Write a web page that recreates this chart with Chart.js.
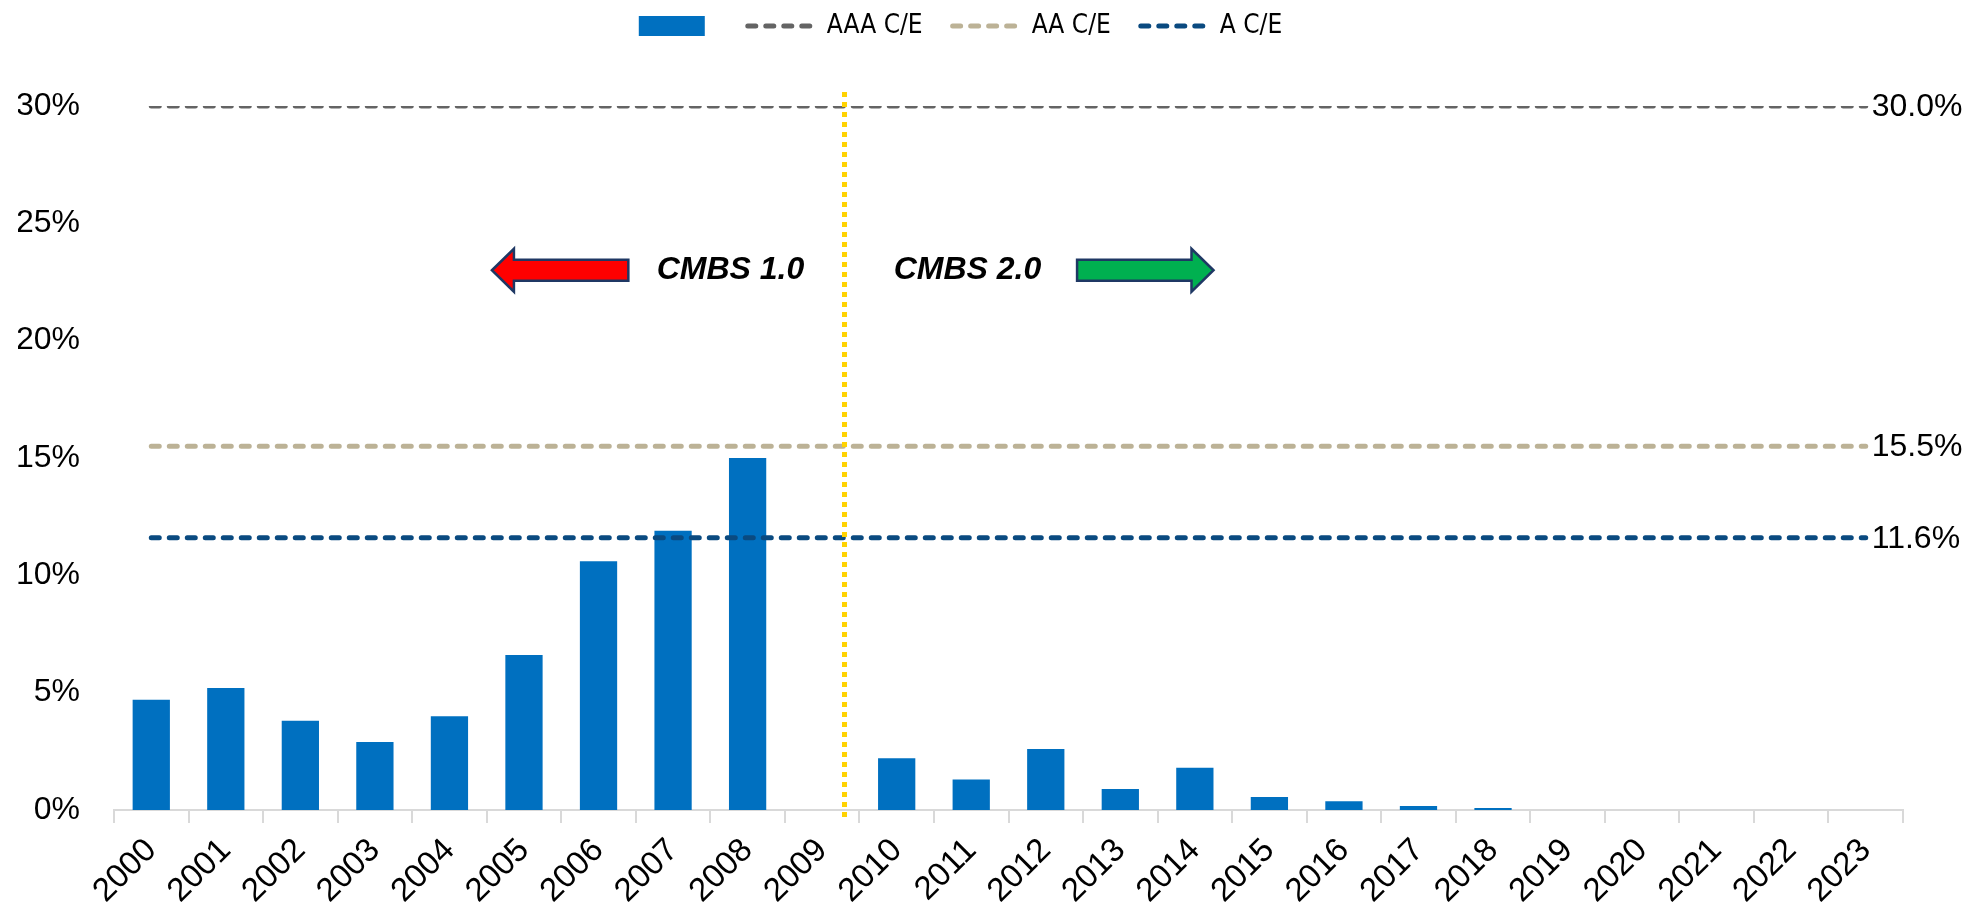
<!DOCTYPE html>
<html>
<head>
  <meta charset="UTF-8">
  <title>CMBS Credit Enhancement</title>
  <script src="https://cdn.jsdelivr.net/npm/chart.js"></script>
  <style>
    html, body {
      margin: 0;
      padding: 0;
      background: #fff;
    }
    #wrap {
      width: 1982px;
      height: 912px;
    }
  </style>
</head>
<body>
  <div id="wrap"><canvas id="ceChart"></canvas></div>

  <script>
    // vintage years
    const years = ['2000', '2001', '2002', '2003', '2004', '2005', '2006', '2007', '2008', '2009',
                   '2010', '2011', '2012', '2013', '2014', '2015', '2016', '2017', '2018', '2019',
                   '2020', '2021', '2022', '2023'];

    // bar series (%)
    const barValues = [4.7, 5.2, 3.8, 2.9, 4.0, 6.6, 10.6, 11.9, 15.0, 0,
                       2.2, 1.3, 2.6, 0.9, 1.8, 0.55, 0.37, 0.17, 0.08, 0,
                       0, 0, 0, 0];

    // credit enhancement levels (%)
    const aaaCE = [30, 30, 30, 30, 30, 30, 30, 30, 30, 30, 30, 30,
                   30, 30, 30, 30, 30, 30, 30, 30, 30, 30, 30, 30];
    const aaCE = [15.5, 15.5, 15.5, 15.5, 15.5, 15.5, 15.5, 15.5, 15.5, 15.5, 15.5, 15.5,
                  15.5, 15.5, 15.5, 15.5, 15.5, 15.5, 15.5, 15.5, 15.5, 15.5, 15.5, 15.5];
    const aCE = [11.6, 11.6, 11.6, 11.6, 11.6, 11.6, 11.6, 11.6, 11.6, 11.6, 11.6, 11.6,
                 11.6, 11.6, 11.6, 11.6, 11.6, 11.6, 11.6, 11.6, 11.6, 11.6, 11.6, 11.6];

    const yTicks = [0, 5, 10, 15, 20, 25, 30];

    const sans = '"Liberation Sans", Arial, sans-serif';

    // value labels at the end of the dashed lines
    const endLabels = {
      id: 'endLabels',
      afterDatasetsDraw(chart) {
        const ctx = chart.ctx;
        ctx.save();
        ctx.font = '32px ' + sans;
        ctx.fillStyle = '#000';
        ctx.textAlign = 'left';
        ctx.textBaseline = 'middle';
        chart.data.datasets.forEach((ds, i) => {
          if (ds.type !== 'line') return;
          const pts = chart.getDatasetMeta(i).data;
          const last = pts[pts.length - 1];
          ctx.fillText(ds.data[ds.data.length - 1].toFixed(1) + '%', last.x + 6, last.y + 1);
        });
        ctx.restore();
      }
    };

    function arrow(ctx, tipX, tailX, cy, fill) {
      const dir = tipX < tailX ? 1 : -1;
      const head = 22, hh = 21.5, sh = 10.5;
      ctx.beginPath();
      ctx.moveTo(tipX, cy);
      ctx.lineTo(tipX + dir * head, cy - hh);
      ctx.lineTo(tipX + dir * head, cy - sh);
      ctx.lineTo(tailX, cy - sh);
      ctx.lineTo(tailX, cy + sh);
      ctx.lineTo(tipX + dir * head, cy + sh);
      ctx.lineTo(tipX + dir * head, cy + hh);
      ctx.closePath();
      ctx.fillStyle = fill;
      ctx.fill();
      ctx.lineWidth = 2.5;
      ctx.strokeStyle = '#1F3864';
      ctx.stroke();
    }

    // CMBS 1.0 / 2.0 divider and arrows
    const eraMarks = {
      id: 'eraMarks',
      afterDatasetsDraw(chart) {
        const ctx = chart.ctx;
        const x = chart.scales.x, y = chart.scales.y;
        const area = chart.chartArea;
        ctx.save();

        // dotted divider
        const dx = x.getPixelForValue(9.3);
        ctx.beginPath();
        ctx.setLineDash([5, 5]);
        ctx.lineWidth = 5;
        ctx.strokeStyle = '#FFD200';
        ctx.moveTo(dx, y.getPixelForValue(30.6));
        ctx.lineTo(dx, area.bottom + 8);
        ctx.stroke();
        ctx.setLineDash([]);

        const cy = y.getPixelForValue(23);
        arrow(ctx, x.getPixelForValue(4.57), x.getPixelForValue(6.40), cy, '#FF0000');
        arrow(ctx, x.getPixelForValue(14.25), x.getPixelForValue(12.42), cy, '#00B050');

        ctx.font = 'italic bold 32px ' + sans;
        ctx.fillStyle = '#000';
        ctx.textAlign = 'center';
        ctx.textBaseline = 'middle';
        ctx.fillText('CMBS 1.0', x.getPixelForValue(7.77), cy);
        ctx.fillText('CMBS 2.0', x.getPixelForValue(10.95), cy);
        ctx.restore();
      }
    };

    const lineStyle = {
      type: 'line',
      borderWidth: 5,
      borderDash: [8, 10],
      borderCapStyle: 'round',
      pointRadius: 0,
      fill: false,
      order: 0
    };

    new Chart(document.getElementById('ceChart'), {
      type: 'bar',
      data: {
        labels: years,
        datasets: [
          {
            label: '',
            data: barValues,
            backgroundColor: '#0070C0',
            borderWidth: 0,
            categoryPercentage: 1,
            barPercentage: 0.5,
            order: 1
          },
          { ...lineStyle, label: 'AAA C/E', data: aaaCE, borderColor: '#646464', backgroundColor: '#646464' },
          { ...lineStyle, label: 'AA C/E', data: aaCE, borderColor: '#BCB296', backgroundColor: '#BCB296' },
          { ...lineStyle, label: 'A C/E', data: aCE, borderColor: '#0A4A80', backgroundColor: '#0A4A80' }
        ]
      },
      options: {
        responsive: true,
        maintainAspectRatio: false,
        animation: false,
        layout: {
          autoPadding: false,
          padding: { left: 18, right: 79, top: -17, bottom: 0 }
        },
        plugins: {
          legend: {
            display: true,
            position: 'top',
            labels: {
              usePointStyle: true,
              pointStyleWidth: 66,
              boxHeight: 20,
              padding: 30,
              color: '#000',
              font: { family: '"Liberation Sans Narrow", "DejaVu Sans Condensed", "Liberation Sans", sans-serif', size: 26 },
              generateLabels: chart => chart.data.datasets.map((ds, i) => ({
                text: ds.label,
                fillStyle: ds.backgroundColor,
                strokeStyle: ds.type === 'line' ? ds.borderColor : ds.backgroundColor,
                lineWidth: ds.type === 'line' ? 5 : 0,
                lineDash: ds.type === 'line' ? [8, 10] : [],
                lineCap: 'round',
                pointStyle: ds.type === 'line' ? 'line' : 'rect',
                fontColor: '#000',
                hidden: false,
                datasetIndex: i
              }))
            }
          },
          // empty title used as a spacer between legend and plot
          title: {
            display: true,
            text: '',
            position: 'top',
            weight: 500,
            font: { size: 10 },
            padding: { top: 0, bottom: 45 }
          },
          tooltip: { enabled: false }
        },
        scales: {
          x: {
            afterFit: axis => {
              axis.paddingLeft = 0;
              axis.paddingRight = 0;
              axis.height = 102;
            },
            grid: {
              display: true,
              drawOnChartArea: false,
              drawTicks: true,
              tickLength: 13,
              color: '#D9D9D9',
              lineWidth: 2
            },
            border: { display: true, color: '#D9D9D9', width: 2 },
            ticks: {
              autoSkip: false,
              minRotation: 45,
              maxRotation: 45,
              padding: 8,
              color: '#000',
              font: { family: sans, size: 33 }
            }
          },
          y: {
            min: 0,
            max: 30,
            afterBuildTicks: axis => { axis.ticks = yTicks.map(v => ({ value: v })); },
            afterFit: axis => { axis.width = 96; },
            grid: { display: false, drawTicks: false, tickLength: 0 },
            border: { display: false },
            ticks: {
              padding: 34,
              color: '#000',
              font: { family: sans, size: 32 },
              callback: v => v + '%'
            }
          }
        }
      },
      plugins: [endLabels, eraMarks]
    });
  </script>
</body>
</html>
